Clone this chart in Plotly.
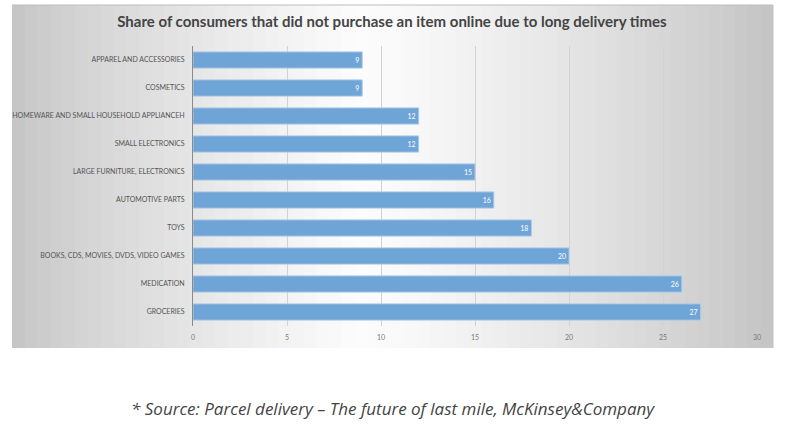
import plotly.graph_objects as go

categories = [
    "APPAREL AND ACCESSORIES",
    "COSMETICS",
    "HOMEWARE AND SMALL HOUSEHOLD APPLIANCEH",
    "SMALL ELECTRONICS",
    "LARGE FURNITURE, ELECTRONICS",
    "AUTOMOTIVE PARTS",
    "TOYS",
    "BOOKS, CDS, MOVIES, DVDS, VIDEO GAMES",
    "MEDICATION",
    "GROCERIES",
]
values = [9, 9, 12, 12, 15, 16, 18, 20, 26, 27]
x_ticks = [0, 5, 10, 15, 20, 25, 30]

W, H = 795, 425
ML, MR, MT, MB = 190, 38, 46, 99
PW = W - ML - MR
PH = H - MT - MB

def px_to_paper_x(px):
    return (px - ML) / PW

def py_to_paper_y(py):
    return (H - MB - py) / PH

fig = go.Figure()
fig.add_trace(go.Bar(
    y=categories[::-1],
    x=values[::-1],
    orientation="h",
    marker=dict(color="#6fa4d7", line=dict(color="#a9cbea", width=1)),
    text=[str(v) for v in values[::-1]],
    textposition="inside",
    insidetextanchor="end",
    textfont=dict(color="white", size=7, family="Lato"),
    cliponaxis=False,
    hoverinfo="skip",
))

# gradient panel background via stripes
shapes = []
left, right, top, bottom = 8, 773, 5, 348
n = 60
def grad(t):
    c_left, c_mid, c_right = 196, 252, 196
    if t < 0.45:
        u = t / 0.45
        v = c_left + (c_mid - c_left) * (u ** 0.8)
    else:
        u = (t - 0.45) / 0.55
        v = c_mid + (c_right - c_mid) * (u ** 1.3)
    return int(round(v))
for i in range(n):
    x0 = left + (right - left) * i / n
    x1 = left + (right - left) * (i + 1) / n + 0.6
    g = grad((i + 0.5) / n)
    shapes.append(dict(type="rect", xref="paper", yref="paper",
                       x0=px_to_paper_x(x0), x1=px_to_paper_x(x1),
                       y0=py_to_paper_y(bottom), y1=py_to_paper_y(top),
                       fillcolor=f"rgb({g},{g},{g})", line=dict(width=0),
                       layer="below"))
shapes.append(dict(type="line", xref="paper", yref="paper",
                   x0=px_to_paper_x(left), x1=px_to_paper_x(right),
                   y0=py_to_paper_y(top), y1=py_to_paper_y(top),
                   line=dict(color="#bdbdbd", width=1), layer="below"))

fig.update_layout(
    width=W, height=H,
    margin=dict(l=ML, r=MR, t=MT, b=MB),
    paper_bgcolor="white",
    plot_bgcolor="rgba(0,0,0,0)",
    shapes=shapes,
    bargap=0.42,
    showlegend=False,
    title=dict(
        text="<b>Share of consumers that did not purchase an item online due to long delivery times</b>",
        x=px_to_paper_x(390), xref="paper", xanchor="center",
        y=1 - 22 / H, yref="container", yanchor="middle",
        font=dict(family="Lato", size=15, color="#444444"),
    ),
    xaxis=dict(
        range=[0, 30], tickvals=x_ticks, showgrid=True,
        gridcolor="#d2d2d2", gridwidth=1, zeroline=False,
        showline=False, ticks="", tickfont=dict(size=7, color="#7a7a7a", family="Lato"),
        ticklabelstandoff=6,
        fixedrange=True,
    ),
    yaxis=dict(
        showgrid=False, ticks="", ticklen=0, showline=True, linecolor="#8a8a8a", linewidth=1,
        tickfont=dict(size=7, color="#555555", family="Lato"),
        ticklabelstandoff=6,
        fixedrange=True,
    ),
    annotations=[dict(
        text="<i>* Source: Parcel delivery – The future of last mile, McKinsey&Company</i>",
        x=px_to_paper_x(391), y=py_to_paper_y(408), xref="paper", yref="paper",
        xanchor="center", yanchor="middle", showarrow=False,
        font=dict(family="Open Sans", size=17, color="#444444"),
    )],
)

fig.write_html("out.html")
